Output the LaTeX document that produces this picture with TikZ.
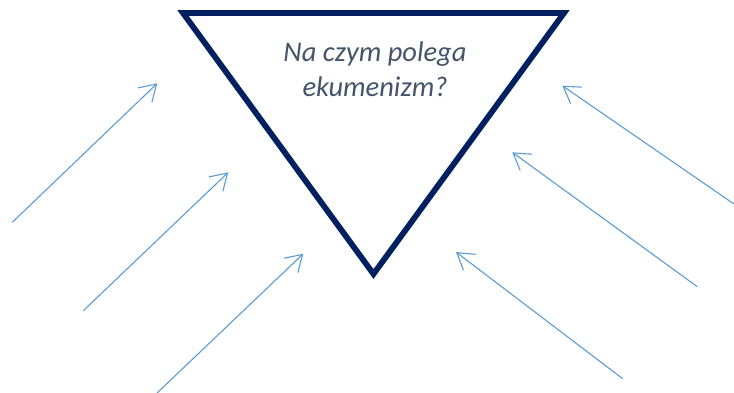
\documentclass[tikz,border=0pt]{standalone}
\usepackage{fontspec}
\setmainfont{Carlito}
\usetikzlibrary{arrows.meta}
\definecolor{navy}{HTML}{002060}
\definecolor{arrowblue}{HTML}{5B9BD5}
\definecolor{textgrey}{HTML}{44546A}
\begin{document}
\begin{tikzpicture}[x=1pt,y=-1pt,
  tri/.style={draw=navy,line width=5.8pt,line join=miter},
  ray/.style={draw=arrowblue,line width=1.1pt,-{Straight Barb[length=16pt,width=20pt]}},
  question/.style={text=textgrey,font=\itshape\fontsize{28.5}{35}\selectfont,align=center,inner sep=0pt}]
\useasboundingbox (0,0) rectangle (734,392);
% triangle corners
\coordinate (tl) at (183,13);
\coordinate (tr) at (564,13);
\coordinate (bt) at (373.5,274);
\draw[tri] (tl) -- (tr) -- (bt) -- cycle;
\node[question,anchor=base] (q) at (375,96.7) {Na czym polega\\ekumenizm?};
% left arrows
\coordinate (l1s) at (12.3,222.3);  \coordinate (l1e) at (157.3,83.3);
\coordinate (l2s) at (83.3,310.7);  \coordinate (l2e) at (228.3,172.3);
\coordinate (l3s) at (157,393);     \coordinate (l3e) at (303.3,253.7);
\draw[ray] (l1s) -- (l1e);
\draw[ray] (l2s) -- (l2e);
\draw[ray] (l3s) -- (l3e);
% right arrows
\coordinate (r1s) at (734,204);     \coordinate (r1e) at (562.3,85.7);
\coordinate (r2s) at (697.3,286.7); \coordinate (r2e) at (512.3,152.3);
\coordinate (r3s) at (622.7,378.7); \coordinate (r3e) at (456,252);
\draw[ray] (r1s) -- (r1e);
\draw[ray] (r2s) -- (r2e);
\draw[ray] (r3s) -- (r3e);
\end{tikzpicture}
\end{document}
